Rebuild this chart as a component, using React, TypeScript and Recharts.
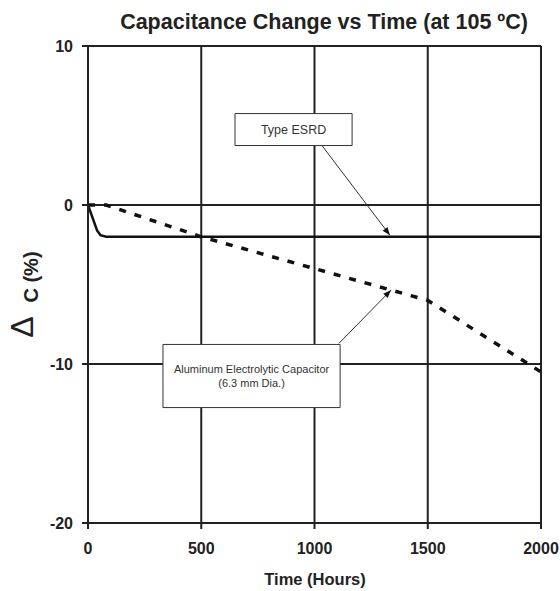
import { LineChart, Line, XAxis, YAxis, CartesianGrid, ReferenceArea, ReferenceLine } from 'recharts'

// ESRD (solid) curve
const esrdHours = [0, 40, 55, 80, 2000]
const esrdChange = [0, -1.6, -1.9, -2, -2]

// aluminum electrolytic (dashed) curve
const alumHours = [0, 80, 500, 1000, 1500, 2000]
const alumChange = [0, 0, -2, -4, -6, -10.5]

const xTicks = [0, 500, 1000, 1500, 2000]
const yTicks = [-20, -10, 0, 10]

const esrdData = esrdHours.map((h, i) => ({ hours: h, change: esrdChange[i] }))
const alumData = alumHours.map((h, i) => ({ hours: h, change: alumChange[i] }))

const FONT = '"Liberation Sans", Arial, sans-serif'
const INK = '#222'

function ArrowLine(props: any) {
  const { x1, y1, x2, y2 } = props
  if ([x1, y1, x2, y2].some((v) => typeof v !== 'number' || isNaN(v))) return null
  const ang = Math.atan2(y2 - y1, x2 - x1)
  const len = 8
  const wid = 3
  const bx = x2 - len * Math.cos(ang)
  const by = y2 - len * Math.sin(ang)
  const px = -Math.sin(ang) * wid
  const py = Math.cos(ang) * wid
  return (
    <g>
      <line x1={x1} y1={y1} x2={x2} y2={y2} stroke="#333" strokeWidth={1} />
      <polygon points={`${x2},${y2} ${bx + px},${by + py} ${bx - px},${by - py}`} fill="#111" />
    </g>
  )
}

function BoxLabel({ viewBox, lines, size }: any) {
  if (!viewBox) return null
  const cx = viewBox.x + viewBox.width / 2
  const cy = viewBox.y + viewBox.height / 2
  const gap = size + 3
  const start = cy - ((lines.length - 1) * gap) / 2
  return (
    <text textAnchor="middle" fontFamily={FONT} fontSize={size} fill="#333">
      {lines.map((l: string, i: number) => (
        <tspan key={i} x={cx} y={start + i * gap} dy="0.35em">{l}</tspan>
      ))}
    </text>
  )
}

function YLabel() {
  return (
    <g fill={INK} fontFamily={FONT}>
      <text x={33} y={327} transform="rotate(-90, 33, 327)" textAnchor="middle" fontSize={32} fontWeight={400}>Δ</text>
      <text x={38} y={277} transform="rotate(-90, 38, 277)" textAnchor="middle" fontSize={20} fontWeight={700}>C (%)</text>
    </g>
  )
}

function XLabel() {
  return (
    <text x={315} y={585} textAnchor="middle" fontFamily={FONT} fontSize={16.5} fontWeight={700} fill={INK}>
      Time (Hours)
    </text>
  )
}

export default function App() {
  const tick = { fill: INK, fontSize: 16, fontWeight: 700, fontFamily: FONT }
  return (
    <div style={{ position: 'absolute', left: 0, top: 0, width: 560, height: 591, background: '#fff' }}>
      <div
        style={{
          position: 'absolute', left: 0, top: 10, width: 648, textAlign: 'center', whiteSpace: 'nowrap',
          fontFamily: FONT, fontWeight: 700, fontSize: 21.5, lineHeight: '24px', color: INK,
        }}
      >
        Capacitance Change vs Time (at 105 ºC)
      </div>
      <LineChart width={560} height={591} margin={{ top: 46, right: 19, bottom: 0, left: 0 }}>
        <CartesianGrid stroke={INK} strokeWidth={2} />
        <XAxis
          type="number"
          dataKey="hours"
          domain={[0, 2000]}
          ticks={xTicks}
          height={68}
          tick={tick}
          tickSize={6}
          tickMargin={14}
          tickLine={{ stroke: INK, strokeWidth: 2 }}
          axisLine={{ stroke: INK, strokeWidth: 2 }}
          allowDataOverflow
          label={<XLabel />}
        />
        <YAxis
          type="number"
          domain={[-20, 10]}
          ticks={yTicks}
          width={88}
          tick={tick}
          tickSize={6}
          tickMargin={9}
          tickLine={{ stroke: INK, strokeWidth: 2 }}
          axisLine={{ stroke: INK, strokeWidth: 2 }}
          allowDataOverflow
          label={<YLabel />}
        />
        <Line
          data={esrdData}
          dataKey="change"
          type="linear"
          stroke="#111"
          strokeWidth={2.5}
          dot={false}
          isAnimationActive={false}
        />
        <Line
          data={alumData}
          dataKey="change"
          type="linear"
          stroke="#111"
          strokeWidth={3.5}
          strokeDasharray="7 9"
          dot={false}
          isAnimationActive={false}
        />
        <ReferenceLine
          segment={[{ x: 1033, y: 3.74 }, { x: 1333, y: -1.9 }]}
          shape={(p: any) => <ArrowLine {...p} />}
        />
        <ReferenceLine
          segment={[{ x: 1108, y: -8.7 }, { x: 1338, y: -5.35 }]}
          shape={(p: any) => <ArrowLine {...p} />}
        />
        <ReferenceArea
          x1={649}
          x2={1166}
          y1={3.74}
          y2={5.75}
          fill="#fff"
          fillOpacity={1}
          stroke="#333"
          strokeWidth={1}
          label={<BoxLabel lines={['Type ESRD']} size={12.5} />}
        />
        <ReferenceArea
          x1={331}
          x2={1113}
          y1={-12.74}
          y2={-8.77}
          fill="#fff"
          fillOpacity={1}
          stroke="#333"
          strokeWidth={1}
          label={<BoxLabel lines={['Aluminum Electrolytic Capacitor', '(6.3 mm Dia.)']} size={11} />}
        />
      </LineChart>
    </div>
  )
}
